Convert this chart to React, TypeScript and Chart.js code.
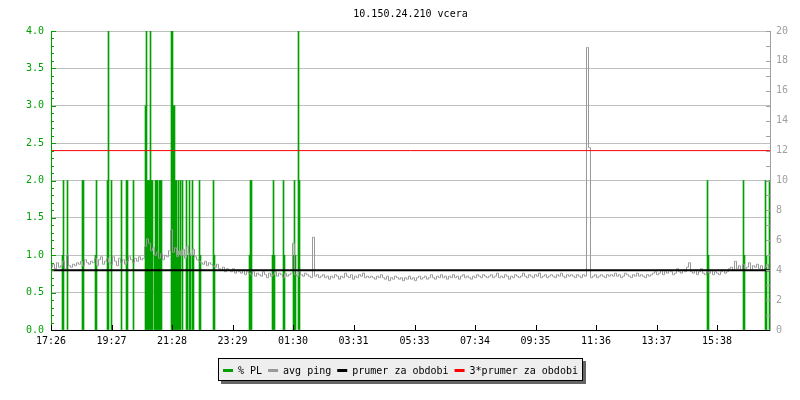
import React, { useEffect, useRef } from "react";
import { Chart, registerables } from "chart.js";

Chart.register(...registerables);

// ---------------- data ----------------
const titleText = "10.150.24.210 vcera";

// x axis: minutes since the start of the graph (17:26)
const timeSpanMinutes = 1438;
const xTickMinutes = [0, 121, 242, 363, 484, 605, 727, 848, 969, 1090, 1211, 1332];
const xTickLabels = ["17:26", "19:27", "21:28", "23:29", "01:30", "03:31", "05:33", "07:34", "09:35", "11:36", "13:37", "15:38"];

// packet loss samples (minute offset, % PL on the left axis)
const plMinutes = [
  23, 25, 33, 63, 65, 89, 91, 113, 115, 121, 141, 151, 153, 165,
  189, 191, 193, 195, 197, 199, 201, 203, 207, 209, 211, 213, 215, 217, 219, 221,
  241, 243, 245, 247, 249, 251, 253, 255, 257, 259, 263,
  271, 273, 277, 279, 283, 285, 297, 299, 325, 327,
  397, 399, 401, 443, 445, 447, 465, 467, 485, 487, 489, 495, 497,
  1313, 1315, 1385, 1387, 1429, 1431, 1437,
];
const plValues = [
  1, 2, 2, 2, 2, 1, 2, 2, 5, 2, 2, 2, 2, 2,
  3, 5, 2, 2, 2, 5, 2, 2, 1, 2, 2, 2, 1, 2, 2, 2,
  5, 5, 3, 3, 2, 2, 1, 2, 1, 2, 2,
  2, 1, 2, 1, 2, 1, 2, 1, 2, 1,
  1, 2, 2, 1, 2, 1, 2, 1, 1, 2, 1, 5, 2,
  2, 1, 2, 1, 2, 1, 2,
];

// average ping (ms, right axis), one sample every 4 minutes, first at minute 1
const pingStepMinutes = 4;
const pingFirstMinute = 1;
const pingValues = [
  4.2, 4.4, 4.1, 4.5, 4.2, 4.3, 4.6, 4.1, 5.0, 4.3, 4.2, 4.4, 4.3, 4.5, 4.4, 4.6, 4.3, 4.7, 4.5, 4.4,
  4.6, 4.5, 4.8, 4.3, 4.7, 4.9, 4.4, 4.6, 4.8, 4.5, 4.4, 4.9, 4.6, 4.3, 4.8, 4.5, 4.7, 4.4, 4.6, 4.9,
  4.7, 4.5, 4.8, 4.6, 4.9, 4.7, 4.8, 5.6, 6.1, 5.8, 5.3, 5.5, 5.0, 5.2, 4.8, 5.1, 4.7, 5.0, 4.9, 5.3,
  6.7, 5.2, 5.5, 4.9, 5.3, 5.0, 5.4, 4.8, 5.6, 5.1, 5.0, 5.4, 4.9, 4.7, 4.6, 4.5, 4.4, 4.6, 4.3, 4.5,
  4.4, 4.3, 4.2, 4.4, 4.1, 4.0, 4.2, 3.9, 4.1, 4.0, 3.9, 4.1, 3.8, 4.0, 3.9, 3.8, 4.0, 3.7, 3.9, 3.8,
  3.7, 3.9, 3.6, 3.8, 3.7, 3.6, 3.9, 3.7, 3.5, 3.8, 3.6, 3.7, 3.9, 3.6, 3.8, 3.7, 3.5, 3.8, 3.6, 3.7,
  3.8, 5.8, 3.7, 3.6, 3.9, 3.7, 3.6, 3.8, 3.7, 3.6, 3.5, 6.2, 3.6, 3.7, 3.5, 3.6, 3.7, 3.5, 3.6, 3.4,
  3.6, 3.5, 3.7, 3.6, 3.4, 3.6, 3.5, 3.8, 3.6, 3.5, 3.7, 3.4, 3.6, 3.5, 3.7, 3.6, 3.8, 3.5, 3.6, 3.5,
  3.6, 3.5, 3.4, 3.6, 3.5, 3.7, 3.5, 3.4, 3.6, 3.3, 3.5, 3.4, 3.6, 3.5, 3.4, 3.5, 3.3, 3.5, 3.4, 3.6,
  3.4, 3.5, 3.3, 3.5, 3.6, 3.4, 3.5, 3.6, 3.4, 3.5, 3.7, 3.5, 3.4, 3.6, 3.5, 3.7, 3.5, 3.6, 3.4, 3.6,
  3.5, 3.7, 3.5, 3.6, 3.4, 3.6, 3.7, 3.5, 3.6, 3.5, 3.4, 3.6, 3.5, 3.7, 3.6, 3.5, 3.7, 3.6, 3.5, 3.6,
  3.7, 3.5, 3.6, 3.8, 3.5, 3.6, 3.5, 3.7, 3.6, 3.4, 3.6, 3.5, 3.7, 3.6, 3.5, 3.6, 3.8, 3.6, 3.5, 3.7,
  3.6, 3.5, 3.7, 3.6, 3.8, 3.5, 3.6, 3.7, 3.5, 3.6, 3.7, 3.6, 3.5, 3.7, 3.6, 3.8, 3.6, 3.5, 3.7, 3.6,
  3.7, 3.6, 3.5, 3.7, 3.6, 3.5, 3.7, 3.6, 18.9, 12.2, 3.5, 3.6, 3.7, 3.5, 3.6, 3.7, 3.6, 3.5, 3.7, 3.6,
  3.7, 3.6, 3.8, 3.6, 3.7, 3.5, 3.6, 3.8, 3.7, 3.6, 3.5, 3.7, 3.6, 3.8, 3.6, 3.7, 3.6, 3.5, 3.7, 3.6,
  3.7, 3.8, 3.9, 3.7, 3.8, 4.0, 3.7, 3.9, 3.8, 4.0, 3.9, 3.7, 3.8, 4.1, 3.9, 3.8, 4.0, 3.9, 4.2, 4.5,
  3.9, 3.8, 4.0, 3.7, 3.9, 4.1, 3.8, 3.7, 3.9, 3.8, 4.0, 3.7, 3.9, 3.8, 3.7, 3.9, 4.0, 3.8, 3.9, 4.1,
  4.2, 4.0, 4.6, 4.1, 4.3, 4.0, 4.4, 4.1, 4.2, 4.5, 4.0, 4.3, 4.2, 4.4, 4.1, 4.3, 4.0, 4.2, 4.4, 4.1,
];

// period average of ping (ms) and its triple
const avgPing = 4.0;
const avgMultiplier = 3;

const seriesLabels = ["% PL", "avg ping", "prumer za obdobi", "3*prumer za obdobi"];

// ---------------- styles ----------------
const FONT = "'DejaVu Sans Mono', 'Liberation Mono', monospace";
const GREEN = "#00a000";
const GRAY = "#999999";
const AXIS_GRAY = "#a0a0a0";
const GRID = "#c0c0c0";

const decorPlugin = {
  id: "rrdDecor",
  afterDraw(chart: any) {
    const ctx = chart.ctx as CanvasRenderingContext2D;
    const { left, right, top, bottom } = chart.chartArea;
    const yL = chart.scales.yL;
    const yR = chart.scales.yR;
    const x = chart.scales.x;
    ctx.save();
    ctx.lineWidth = 1;

    // left axis minor ticks (inward)
    ctx.strokeStyle = GREEN;
    for (let k = 0; k <= 40; k++) {
      const py = Math.round(yL.getPixelForValue(k / 10)) + 0.5;
      const len = k % 5 === 0 ? 5 : 3;
      ctx.beginPath();
      ctx.moveTo(left, py);
      ctx.lineTo(left + len, py);
      ctx.stroke();
    }
    ctx.beginPath();
    ctx.moveTo(left + 0.5, top);
    ctx.lineTo(left + 0.5, bottom);
    ctx.stroke();

    // right axis minor ticks (inward)
    ctx.strokeStyle = AXIS_GRAY;
    for (let k = 0; k <= 20; k++) {
      const py = Math.round(yR.getPixelForValue(k)) + 0.5;
      ctx.beginPath();
      ctx.moveTo(right, py);
      ctx.lineTo(right - 4, py);
      ctx.stroke();
    }
    ctx.beginPath();
    ctx.moveTo(right + 0.5, top);
    ctx.lineTo(right + 0.5, bottom);
    ctx.stroke();

    // bottom axis + ticks
    ctx.strokeStyle = "#000";
    ctx.beginPath();
    ctx.moveTo(left, bottom + 0.5);
    ctx.lineTo(right, bottom + 0.5);
    ctx.stroke();
    for (const m of xTickMinutes) {
      const px = Math.round(x.getPixelForValue(m)) + 0.5;
      ctx.beginPath();
      ctx.moveTo(px, bottom);
      ctx.lineTo(px, bottom - 5);
      ctx.stroke();
    }

    // title
    ctx.font = `10px ${FONT}`;
    ctx.fillStyle = "#000";
    ctx.textAlign = "center";
    ctx.textBaseline = "alphabetic";
    ctx.fillText(titleText, (left + right) / 2, 17);

    // legend
    const items = chart.data.datasets.map((ds: any) => ({
      label: ds.label as string,
      color: (ds.type === "bar" ? ds.backgroundColor : ds.borderColor) as string,
    }));
    const sw = 10;
    const g1 = 5;
    const g2 = 6;
    const pad = 5;
    const widths = items.map((it: any) => sw + g1 + ctx.measureText(it.label).width);
    const total = widths.reduce((a: number, b: number) => a + b, 0) + g2 * (items.length - 1) + pad * 2;
    const bx = Math.round(chart.width / 2 - total / 2);
    const by = 358;
    const bh = 23;
    const bw = Math.round(total);
    ctx.fillStyle = "#666666";
    ctx.fillRect(bx + 3, by + 3, bw, bh);
    ctx.fillStyle = "#eeeeee";
    ctx.fillRect(bx, by, bw, bh);
    ctx.strokeStyle = "#000";
    ctx.strokeRect(bx + 0.5, by + 0.5, bw - 1, bh - 1);
    let cx = bx + pad;
    ctx.textAlign = "left";
    items.forEach((it: any, i: number) => {
      ctx.fillStyle = it.color;
      ctx.fillRect(cx, 369, sw, 3);
      ctx.fillStyle = "#000";
      ctx.fillText(it.label, cx + sw + g1, 374);
      cx += widths[i] + g2;
    });
    ctx.restore();
  },
};

export default function App() {
  const ref = useRef<HTMLCanvasElement | null>(null);

  useEffect(() => {
    document.body.style.margin = "0";
    const canvas = ref.current;
    if (!canvas) return;
    Chart.defaults.font.family = FONT;
    Chart.defaults.font.size = 10;

    const chart = new Chart(canvas, {
      data: {
        datasets: [
          {
            type: "bar",
            label: seriesLabels[0],
            data: plMinutes.map((m, i) => ({ x: m, y: plValues[i] })),
            xAxisID: "x",
            yAxisID: "yL",
            backgroundColor: GREEN,
            borderWidth: 0,
            barThickness: 1,
            grouped: false,
            order: 3,
          } as any,
          {
            type: "line",
            label: seriesLabels[1],
            data: pingValues.map((v, i) => ({ x: pingFirstMinute + i * pingStepMinutes, y: v })),
            xAxisID: "x",
            yAxisID: "yR",
            borderColor: GRAY,
            borderWidth: 1,
            pointRadius: 0,
            stepped: "middle",
            order: 2,
          },
          {
            type: "line",
            label: seriesLabels[2],
            data: [
              { x: 0, y: avgPing },
              { x: timeSpanMinutes, y: avgPing },
            ],
            xAxisID: "x",
            yAxisID: "yR",
            borderColor: "#000000",
            borderWidth: 2,
            pointRadius: 0,
            order: 1,
          },
          {
            type: "line",
            label: seriesLabels[3],
            data: [
              { x: 0, y: avgPing * avgMultiplier },
              { x: timeSpanMinutes, y: avgPing * avgMultiplier },
            ],
            xAxisID: "x",
            yAxisID: "yR",
            borderColor: "#ff0000",
            borderWidth: 1,
            pointRadius: 0,
            order: 0,
          },
        ],
      },
      options: {
        responsive: false,
        animation: false,
        events: [],
        layout: { padding: { top: 31, bottom: 50, left: 0, right: 0 } },
        plugins: {
          legend: { display: false },
          title: { display: false },
          tooltip: { enabled: false },
        },
        scales: {
          x: {
            type: "linear",
            position: "bottom",
            offset: false,
            min: 0,
            max: timeSpanMinutes,
            afterBuildTicks: (scale: any) => {
              scale.ticks = xTickMinutes.map((v) => ({ value: v }));
            },
            afterFit: (scale: any) => {
              scale.height = 20;
            },
            ticks: {
              autoSkip: false,
              maxRotation: 0,
              padding: 5,
              color: "#000",
              font: { family: FONT, size: 10 },
              callback: (_v: any, i: number) => xTickLabels[i],
            },
            grid: { display: false, drawTicks: false, offset: false },
            border: { display: true, color: "#000" },
          },
          yL: {
            type: "linear",
            position: "left",
            min: 0,
            max: 4,
            afterFit: (scale: any) => {
              scale.width = 51;
            },
            ticks: {
              stepSize: 0.5,
              padding: 7,
              color: GREEN,
              font: { family: FONT, size: 10 },
              callback: (v: any) => Number(v).toFixed(1),
            },
            grid: { color: GRID, drawTicks: false, lineWidth: 1 },
            border: { display: true, color: GREEN },
          },
          yR: {
            type: "linear",
            position: "right",
            min: 0,
            max: 20,
            afterFit: (scale: any) => {
              scale.width = 30;
            },
            ticks: {
              stepSize: 2,
              padding: 6,
              color: AXIS_GRAY,
              font: { family: FONT, size: 10 },
              callback: (v: any) => String(v),
            },
            grid: { drawOnChartArea: false, drawTicks: false },
            border: { display: true, color: AXIS_GRAY },
          },
        },
      } as any,
      plugins: [decorPlugin],
    });
    return () => chart.destroy();
  }, []);

  return (
    <div style={{ width: 800, height: 400, background: "#fff" }}>
      <canvas ref={ref} width={800} height={400} style={{ display: "block" }} />
    </div>
  );
}
